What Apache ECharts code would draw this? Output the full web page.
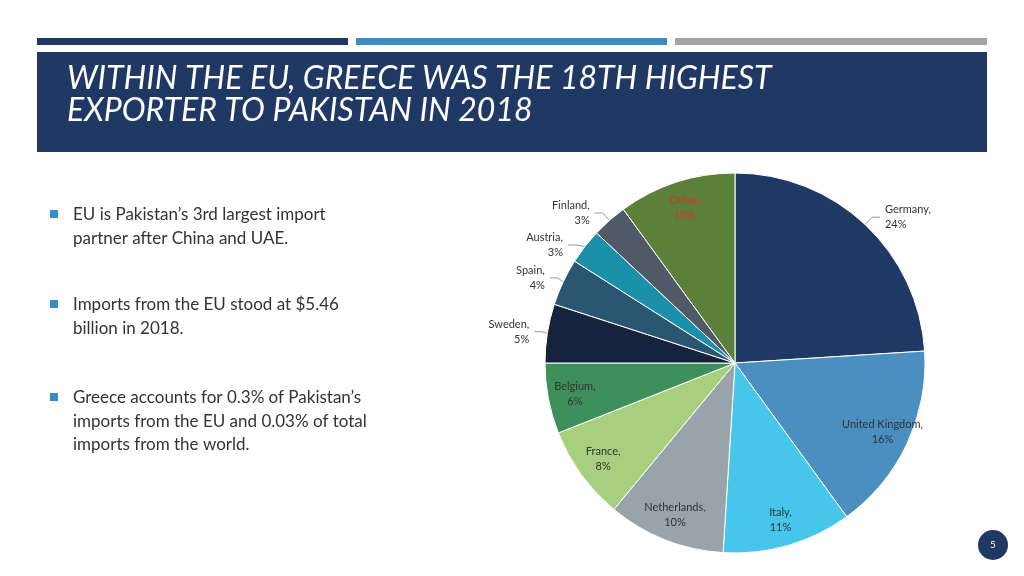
<!DOCTYPE html>
<html><head><meta charset="utf-8">
<script src="https://cdn.jsdelivr.net/npm/echarts@6/dist/echarts.min.js"></script>
<style>html,body{margin:0;padding:0;background:#fff}#c{width:1024px;height:576px}</style>
</head><body><div id="c"></div>
<script>
const countries = ['Germany', 'United Kingdom', 'Italy', 'Netherlands', 'France', 'Belgium', 'Sweden', 'Spain', 'Austria', 'Finland', 'Other']
const shares = [24, 16, 11, 10, 8, 6, 5, 4, 3, 3, 10]
const colors = ['#203864', '#4a8fc0', '#45c6ea', '#98a3ab', '#a8cf7e', '#3f8f5a', '#16233c', '#2b5671', '#1a90a9', '#4f5a66', '#5b803a']
const insideLabels = ['United Kingdom', 'Italy', 'Netherlands', 'France', 'Belgium', 'Other']
const bullets = [
  ['EU is Pakistan\u2019s 3rd largest import', 'partner after China and UAE.'],
  ['Imports from the EU stood at $5.46', 'billion in 2018.'],
  ['Greece accounts for 0.3% of Pakistan\u2019s', 'imports from the EU and 0.03% of total', 'imports from the world.']
]
const bulletTops = [214, 304, 397]

const graphics = [
  {type: 'rect', shape: {x: 37, y: 38, width: 311, height: 7}, style: {fill: '#203864'}},
  {type: 'rect', shape: {x: 356, y: 38, width: 311, height: 7}, style: {fill: '#3a8dc4'}},
  {type: 'rect', shape: {x: 675, y: 38, width: 312, height: 7}, style: {fill: '#a3a3a3'}},
  {type: 'rect', shape: {x: 37, y: 52, width: 950, height: 100}, style: {fill: '#203864'}},
  {type: 'text', x: 67, y: 63, style: {text: 'WITHIN THE EU, GREECE WAS THE 18TH HIGHEST\nEXPORTER TO PAKISTAN IN 2018', fill: '#fff', font: 'italic 32px Lato', lineHeight: 32}},
  {type: 'circle', shape: {cx: 993, cy: 545, r: 15}, style: {fill: '#203864'}},
  {type: 'text', x: 993, y: 545, style: {text: '5', fill: '#fff', font: '10px Lato', align: 'center', verticalAlign: 'middle'}}
]
bullets.forEach((lines, i) => {
  const y = bulletTops[i]
  graphics.push({type: 'rect', shape: {x: 50, y: y - 4, width: 8, height: 8}, style: {fill: '#3a8dc4'}})
  graphics.push({type: 'text', x: 73, y: y - 11, style: {text: lines.join('\n'), fill: '#333', font: '17px Lato', lineHeight: 23.5}})
})

const data = countries.map((name, i) => {
  const item = {name: name, value: shares[i], itemStyle: {color: colors[i]}}
  if (insideLabels.includes(name)) {
    item.label = {show: false}
    item.labelLine = {show: false}
  }
  return item
})
// transparent twice-as-big pie, only to place the "inside" labels near the rim
const overlay = countries.map((name, i) => ({
  name: name, value: shares[i],
  label: {show: insideLabels.includes(name), color: name === 'Other' ? '#e03020' : '#333'}
}))

const labelFont = {formatter: '{b},\n{c}%', fontFamily: 'Lato', fontSize: 11, color: '#333', align: 'center', lineHeight: 15}
const myChart = echarts.init(document.getElementById('c'))
myChart.setOption({
  animation: false,
  graphic: graphics,
  series: [{
    type: 'pie',
    center: [735, 363],
    radius: [0, 190],
    startAngle: 90,
    data: data,
    itemStyle: {borderColor: '#fff', borderWidth: 1},
    label: labelFont,
    labelLine: {length: 10, length2: 8, lineStyle: {color: '#999'}}
  }, {
    type: 'pie',
    silent: true,
    center: [735, 363],
    radius: [0, 320],
    startAngle: 90,
    data: overlay,
    itemStyle: {color: 'rgba(0,0,0,0)'},
    label: Object.assign({position: 'inside'}, labelFont),
    labelLine: {show: false}
  }]
})
</script></body></html>
